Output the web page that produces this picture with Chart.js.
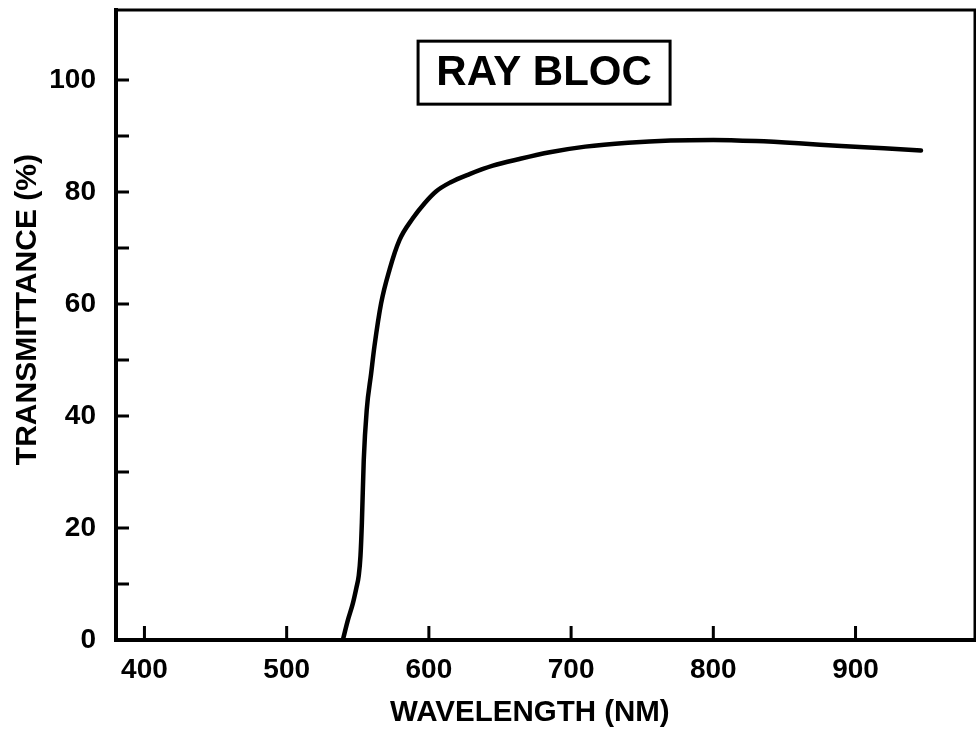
<!DOCTYPE html>
<html>
<head>
<meta charset="utf-8">
<script src="https://cdn.jsdelivr.net/npm/chart.js@4/dist/chart.umd.min.js"></script>
<style>
  html, body { margin: 0; padding: 0; background: #fff; }
  #wrap { width: 976px; height: 734px; }
</style>
</head>
<body>
<div id="wrap"><canvas id="rayBloc"></canvas></div>
<script>
const canvas = document.getElementById('rayBloc');

// curve
const wavelength = [539.5, 543, 546.5, 549, 550.7, 551.9, 552.9, 554.2, 556.3, 559.4, 561.7, 566.4, 572.3, 579.3, 588.7, 597, 605, 615, 628.6, 645, 663.7, 685, 710, 740, 770, 800, 830, 860, 890, 920, 946];
const transmittance = [0, 3.5, 6.5, 9.3, 11.5, 15, 21, 32.1, 41.1, 47.6, 52.4, 60.1, 66.1, 71.4, 75.3, 78, 80.1, 81.7, 83.2, 84.7, 85.9, 87.1, 88.1, 88.8, 89.2, 89.3, 89.1, 88.7, 88.2, 87.8, 87.4];

const xTicks = [400, 500, 600, 700, 800, 900];
const yTicks = [0, 20, 40, 60, 80, 100];
const yMinorTicks = [10, 20, 30, 40, 50, 60, 70, 80, 90, 100];

const FONT = '"Liberation Sans", Arial, sans-serif';

const decor = {
  id: 'decor',
  afterDraw(chart) {
    const {ctx, chartArea: a, scales: {x, y}} = chart;
    ctx.save();
    ctx.strokeStyle = '#000';
    ctx.fillStyle = '#000';

    // top and right frame
    ctx.lineWidth = 3;
    ctx.beginPath();
    ctx.moveTo(a.left, a.top);
    ctx.lineTo(a.right, a.top);
    ctx.lineTo(a.right, a.bottom);
    ctx.stroke();

    // inward ticks
    ctx.beginPath();
    yMinorTicks.forEach(v => {
      const py = y.getPixelForValue(v);
      ctx.moveTo(a.left, py);
      ctx.lineTo(a.left + 13, py);
    });
    xTicks.forEach(v => {
      const px = x.getPixelForValue(v);
      ctx.moveTo(px, a.bottom);
      ctx.lineTo(px, a.bottom - 14);
    });
    ctx.stroke();

    // axis titles
    ctx.textAlign = 'center';
    ctx.textBaseline = 'middle';
    ctx.font = 'bold 29.5px ' + FONT;
    ctx.fillText('WAVELENGTH (NM)', x.getPixelForValue(671), 713);
    ctx.save();
    ctx.font = 'bold 30px ' + FONT;
    ctx.translate(28, y.getPixelForValue(59));
    ctx.rotate(-Math.PI / 2);
    ctx.fillText('TRANSMITTANCE (%)', 0, 0);
    ctx.restore();

    // label box
    const cx = x.getPixelForValue(681);
    const cy = y.getPixelForValue(101.4);
    ctx.font = 'bold 42px ' + FONT;
    ctx.lineWidth = 3;
    ctx.strokeRect(cx - 126, cy - 31, 252, 63);
    ctx.fillText('RAY BLOC', cx, cy + 1);
    ctx.restore();
  }
};

new Chart(canvas, {
  type: 'scatter',
  data: {
    datasets: [{
      label: 'Ray Bloc',
      data: wavelength.map((w, i) => ({x: w, y: transmittance[i]})),
      showLine: true,
      borderColor: '#000',
      borderWidth: 4.5,
      pointRadius: 0,
      cubicInterpolationMode: 'monotone',
      borderCapStyle: 'round'
    }]
  },
  options: {
    responsive: true,
    maintainAspectRatio: false,
    animation: false,
    events: [],
    layout: { padding: { top: 10, right: 1, left: 0, bottom: 0 } },
    plugins: { legend: { display: false }, tooltip: { enabled: false } },
    scales: {
      x: {
        type: 'linear',
        min: 380,
        max: 984,
        afterBuildTicks: s => { s.ticks = xTicks.map(v => ({value: v})); },
        afterFit: s => { s.height = 94; s.paddingLeft = 0; s.paddingRight = 0; },
        grid: { display: false, drawTicks: false },
        border: { display: true, color: '#000', width: 4 },
        ticks: { color: '#000', padding: 13, font: { family: FONT, size: 28, weight: 'bold' }, maxRotation: 0 }
      },
      y: {
        type: 'linear',
        min: 0,
        max: 112.5,
        afterBuildTicks: s => { s.ticks = yTicks.map(v => ({value: v})); },
        afterFit: s => { s.width = 116; s.paddingTop = 0; s.paddingBottom = 0; },
        grid: { display: false, drawTicks: false },
        border: { display: true, color: '#000', width: 4 },
        ticks: { color: '#000', padding: 20, font: { family: FONT, size: 28, weight: 'bold' } }
      }
    }
  },
  plugins: [decor]
});
</script>
</body>
</html>
